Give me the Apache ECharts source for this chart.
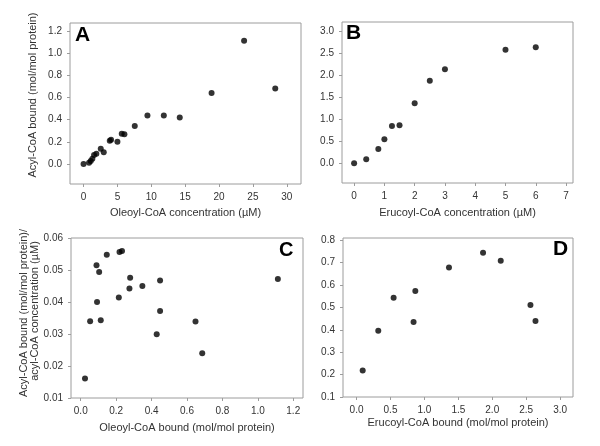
<!DOCTYPE html>
<html>
<head>
<meta charset="utf-8">
<script src="https://cdn.jsdelivr.net/npm/echarts@6/dist/echarts.min.js"></script>
<style>
html,body{margin:0;padding:0;background:#fff;}
#chart{width:600px;height:446px;}
</style>
</head>
<body>
<div id="chart"></div>
<script>
// Panel A: Oleoyl-CoA concentration vs bound
var aX = [0, 0.81, 1.06, 1.30, 1.55, 1.89, 2.54, 2.98, 3.87, 4.06, 5.0, 5.64, 6.03, 7.56, 9.43, 11.85, 14.2, 18.9, 23.7, 28.3];
var aY = [0, 0.012, 0.027, 0.048, 0.081, 0.093, 0.138, 0.105, 0.21, 0.219, 0.20, 0.273, 0.267, 0.342, 0.438, 0.438, 0.42, 0.64, 1.11, 0.68];
// Panel B: Erucoyl-CoA concentration vs bound
var bX = [0, 0.4, 0.8, 1.0, 1.25, 1.5, 2.0, 2.5, 3.0, 5.0, 6.0];
var bY = [0, 0.09, 0.32, 0.54, 0.84, 0.86, 1.36, 1.87, 2.13, 2.57, 2.63];
// Panel C: Oleoyl-CoA bound vs bound/concentration
var cX = [0.024, 0.053, 0.089, 0.092, 0.104, 0.113, 0.147, 0.215, 0.219, 0.233, 0.279, 0.275, 0.348, 0.448, 0.448, 0.429, 0.648, 0.686, 1.113];
var cY = [0.0161, 0.034, 0.0515, 0.040, 0.0494, 0.0343, 0.0548, 0.0414, 0.0556, 0.0559, 0.0476, 0.0442, 0.0450, 0.0467, 0.0372, 0.0299, 0.0339, 0.0240, 0.0472];
// Panel D: Erucoyl-CoA bound vs bound/concentration
var dX = [0.09, 0.32, 0.546, 0.84, 0.866, 1.362, 1.864, 2.125, 2.563, 2.637];
var dY = [0.218, 0.396, 0.543, 0.435, 0.573, 0.678, 0.744, 0.708, 0.511, 0.439];

// Tick labels
var aXTicks = [0, 5, 10, 15, 20, 25, 30];
var aYTicks = [0, 0.2, 0.4, 0.6, 0.8, 1.0, 1.2];
var bXTicks = [0, 1, 2, 3, 4, 5, 6, 7];
var bYTicks = [0, 0.5, 1.0, 1.5, 2.0, 2.5, 3.0];
var cXTicks = [0, 0.2, 0.4, 0.6, 0.8, 1.0, 1.2];
var cYTicks = [0.01, 0.02, 0.03, 0.04, 0.05, 0.06];
var dXTicks = [0, 0.5, 1.0, 1.5, 2.0, 2.5, 3.0];
var dYTicks = [0.1, 0.2, 0.3, 0.4, 0.5, 0.6, 0.7, 0.8];

// Texts
var panelLetters = ['A', 'B', 'C', 'D'];
var xTitles = ['Oleoyl-CoA concentration (\u00b5M)', 'Erucoyl-CoA concentration (\u00b5M)', 'Oleoyl-CoA bound (mol/mol protein)', 'Erucoyl-CoA bound (mol/mol protein)'];
var yTitleA = 'Acyl-CoA bound (mol/mol protein)';
var yTitleC1 = 'Acyl-CoA bound (mol/mol protein)/';
var yTitleC2 = 'acyl-CoA concentration (\u00b5M)';

function zip(xs, ys) { return xs.map(function (x, i) { return [x, ys[i]]; }); }

var FONT = 'Liberation Sans, Arial, sans-serif';
var BORDER = '#9c9c9c';
var TXT = '#333333';

var grids = [
  {left: 70, top: 23, width: 231, height: 161},
  {left: 342, top: 22, width: 231, height: 161},
  {left: 71, top: 238, width: 232, height: 160},
  {left: 343, top: 238, width: 230, height: 159}
];
grids.forEach(function (g) { g.show = true; g.borderColor = BORDER; g.borderWidth = 1; g.backgroundColor = '#fff'; });

function axis(gi, min, max, ticks, dec, name, gap, isX) {
  var o = {
    type: 'value', gridIndex: gi, min: min, max: max,
    position: isX ? 'bottom' : 'left',
    splitLine: {show: false},
    axisLine: {show: false, onZero: false},
    axisTick: {show: true, inside: false, length: 3, lineStyle: {color: BORDER}, customValues: ticks},
    axisLabel: {
      color: TXT, fontSize: 10, fontFamily: FONT, margin: 8, customValues: ticks,
      formatter: function (v) { return Number(v).toFixed(dec); }
    }
  };
  if (name) {
    o.name = name; o.nameLocation = 'middle'; o.nameGap = gap;
    o.nameTextStyle = {color: TXT, fontSize: 11, fontFamily: FONT};
  }
  return o;
}

var xAxes = [
  axis(0, -2, 32.1, aXTicks, 0, xTitles[0], 23, true),
  axis(1, -0.4, 7.23, bXTicks, 0, xTitles[1], 24, true),
  axis(2, -0.055, 1.255, cXTicks, 1, xTitles[2], 24, true),
  axis(3, -0.2, 3.19, dXTicks, 1, xTitles[3], 20, true)
];
var yAxes = [
  axis(0, -0.18, 1.27, aYTicks, 1, null, 0, false),
  axis(1, -0.45, 3.2, bYTicks, 1, null, 0, false),
  axis(2, 0.01, 0.06, cYTicks, 2, null, 0, false),
  axis(3, 0.1, 0.81, dYTicks, 1, null, 0, false)
];

var datas = [zip(aX, aY), zip(bX, bY), zip(cX, cY), zip(dX, dY)];
var series = datas.map(function (d, i) {
  return {
    type: 'scatter', xAxisIndex: i, yAxisIndex: i, data: d,
    symbol: 'circle', symbolSize: 6, itemStyle: {color: '#000'}, silent: true
  };
});

var letterPos = [[75, 35], [346, 33], [279, 250], [553, 249]];
var letterSize = [21, 21, 20, 21];
var graphic = letterPos.map(function (p, i) {
  return {
    type: 'text', x: p[0], y: p[1], z: 100,
    style: {text: panelLetters[i], fill: '#000', font: 'bold ' + letterSize[i] + 'px ' + FONT, verticalAlign: 'middle', align: 'left'}
  };
});
graphic.push({
  type: 'text', x: 33, y: 95, rotation: Math.PI / 2, z: 100,
  style: {text: yTitleA, fill: TXT, font: '11px ' + FONT, align: 'center', verticalAlign: 'middle'}
});
graphic.push({
  type: 'text', x: 24, y: 313, rotation: Math.PI / 2, z: 100,
  style: {text: yTitleC1, fill: TXT, font: '11px ' + FONT, align: 'center', verticalAlign: 'middle'}
});
graphic.push({
  type: 'text', x: 35, y: 311, rotation: Math.PI / 2, z: 100,
  style: {text: yTitleC2, fill: TXT, font: '11px ' + FONT, align: 'center', verticalAlign: 'middle'}
});

var chart = echarts.init(document.getElementById('chart'), null, {renderer: 'canvas'});
chart.setOption({
  backgroundColor: '#fff',
  animation: false,
  grid: grids,
  xAxis: xAxes,
  yAxis: yAxes,
  series: series,
  graphic: graphic
});
</script>
</body>
</html>
